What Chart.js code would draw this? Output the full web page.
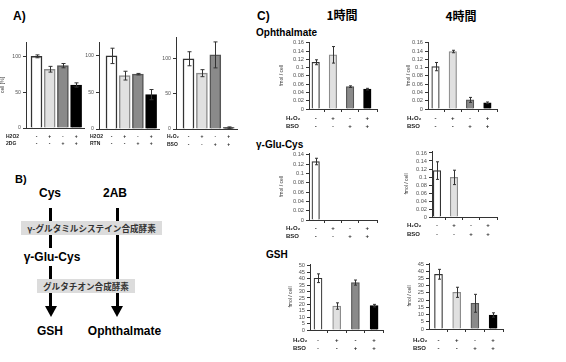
<!DOCTYPE html>
<html><head><meta charset="utf-8">
<script src="https://cdn.jsdelivr.net/npm/chart.js@4.4.1/dist/chart.umd.min.js"></script>
<style>
html,body{margin:0;padding:0;}
body{width:566px;height:362px;background:#fff;position:relative;overflow:hidden;font-family:"Liberation Sans","Noto Sans CJK JP",sans-serif;color:#000;}
canvas{position:absolute;}
.t{position:absolute;font-weight:bold;white-space:nowrap;line-height:1;}
.c{transform:translate(-50%,-50%);}
.l{transform:translateY(-50%);}
.box{position:absolute;background:#dcdcdc;color:#333;font-weight:bold;font-size:8.6px;line-height:14px;height:14px;text-align:center;white-space:nowrap;font-family:"Noto Sans CJK JP","Liberation Sans",sans-serif;}
.vl{position:absolute;background:#000;width:3px;}
.ah{position:absolute;width:0;height:0;border-left:6px solid transparent;border-right:6px solid transparent;border-top:11px solid #000;}
</style></head><body>

<!-- Panel labels -->
<div class="t l" style="left:13px;top:16px;font-size:12px">A)</div>
<div class="t l" style="left:15px;top:178.5px;font-size:11px">B)</div>
<div class="t l" style="left:257px;top:16px;font-size:12px">C)</div>
<div class="t c" style="left:342px;top:15px;font-size:12px;font-family:'Noto Sans CJK JP',sans-serif">1時間</div>
<div class="t c" style="left:461px;top:16px;font-size:12px;font-family:'Noto Sans CJK JP',sans-serif">4時間</div>
<div class="t l" style="left:256px;top:33px;font-size:10px">Ophthalmate</div>
<div class="t l" style="left:256px;top:145px;font-size:10px">γ-Glu-Cys</div>
<div class="t l" style="left:266px;top:255px;font-size:10px">GSH</div>

<!-- Panel B pathway -->
<div class="vl" style="left:49px;top:208px;height:99px"></div>
<div class="ah" style="left:45px;top:306px"></div>
<div class="vl" style="left:115.5px;top:208px;height:99px"></div>
<div class="ah" style="left:111px;top:306px"></div>
<div class="t c" style="left:50px;top:193px;font-size:12px">Cys</div>
<div class="t c" style="left:115px;top:193px;font-size:12px">2AB</div>
<div class="box" style="left:21px;top:221px;width:141px">γ-グルタミルシステイン合成酵素</div>
<div class="t c" style="left:52px;top:256.5px;font-size:12px;background:#fff;padding:3px 0">γ-Glu-Cys</div>
<div class="box" style="left:37px;top:279px;width:98px">グルタチオン合成酵素</div>
<div class="t c" style="left:50px;top:331px;font-size:12px">GSH</div>
<div class="t c" style="left:124.5px;top:331px;font-size:12px">Ophthalmate</div>

<script>
// ---------------- DATA ----------------
const signsH2O2 = ['-', '+', '-', '+'];
const signsInhibitor = ['-', '-', '+', '+'];

const percentTicks = [0, 50, 100];
const cellA1 = [100, 82, 87, 60];
const cellA1Err = [2, 4, 3, 3];
const cellA2 = [100, 73, 75, 47];
const cellA2Err = [10.5, 6, 1, 7];
const cellA3 = [100, 79.5, 105.5, 2];
const cellA3Err = [10, 5, 18.5, 1];

const ophTicks = [0, 0.02, 0.04, 0.06, 0.08, 0.1, 0.12, 0.14, 0.16];
const oph1h = [0.113, 0.131, 0.054, 0.048];
const oph1hErr = [0.006, 0.02, 0.002, 0.002];
const oph4h = [0.1025, 0.139, 0.022, 0.015];
const oph4hErr = [0.01, 0.003, 0.006, 0.002];

const glucys1hTicks = [0, 0.02, 0.04, 0.06, 0.08, 0.1, 0.12, 0.14];
const glucys1h = [0.1257, 0, 0, 0];
const glucys1hErr = [0.007, 0, 0, 0];
const glucys4hTicks = [0, 0.02, 0.04, 0.06, 0.08, 0.1, 0.12, 0.14, 0.16];
const glucys4h = [0.116, 0.099, 0, 0];
const glucys4hErr = [0.022, 0.018, 0, 0];

const gsh1hTicks = [0, 5, 10, 15, 20, 25, 30, 35, 40, 45, 50];
const gsh1h = [40.4, 18.7, 37, 19];
const gsh1hErr = [3.4, 2.5, 2, 1];
const gsh4hTicks = [0, 5, 10, 15, 20, 25, 30, 35, 40, 45];
const gsh4h = [37.9, 25.4, 17.8, 9.7];
const gsh4hErr = [3.4, 3.5, 6.2, 1.5];

// ---------------- STYLE ----------------
const FONT = '"Liberation Sans", "DejaVu Sans", sans-serif';
const FILLS = ['#ffffff', '#e0e0e0', '#8a8a8a', '#000000'];
const EDGES = ['#333333', '#8c8c8c', '#555555', '#000000'];
Chart.defaults.font.family = FONT;
Chart.defaults.color = '#444';

function makeChart(o) {
  const padTop = 6, padRight = 4;
  const left = o.x0 - o.yw, top = o.yTop - padTop;
  const w = Math.ceil(o.xRight - o.x0 + o.yw + padRight);
  const h = Math.ceil(o.y0 - o.yTop + padTop + o.xh);
  const cv = document.createElement('canvas');
  cv.width = w; cv.height = h;
  cv.style.left = left + 'px'; cv.style.top = top + 'px';
  cv.style.width = w + 'px'; cv.style.height = h + 'px';
  document.body.appendChild(cv);
  const xMin = -(o.c0 - o.x0) / o.d;
  const xMax = xMin + (o.xRight - o.x0) / o.d;
  const xTickVals = o.xMarks ? [0.5, 1.5, 2.5, xMax] : [0.5];
  const marks = {
    id: 'marks',
    afterDatasetsDraw(chart) {
      const {ctx, scales: {x, y}, chartArea} = chart;
      ctx.save();
      ctx.strokeStyle = '#333'; ctx.lineWidth = 1;
      o.values.forEach((v, i) => {
        const e = o.errors[i];
        if (!e) return;
        const px = Math.round(x.getPixelForValue(i)) + 0.5;
        const t = y.getPixelForValue(v + e), b = y.getPixelForValue(Math.max(0, v - e));
        ctx.beginPath();
        ctx.moveTo(px, t); ctx.lineTo(px, b);
        ctx.moveTo(px - o.cap, t); ctx.lineTo(px + o.cap, t);
        ctx.moveTo(px - o.cap, b); ctx.lineTo(px + o.cap, b);
        ctx.stroke();
      });
      ctx.fillStyle = '#222'; ctx.textBaseline = 'middle';
      o.rows.forEach(r => {
        ctx.font = 'bold ' + o.rowFont + 'px ' + FONT;
        ctx.textAlign = 'left';
        ctx.fillText(r.name, o.rowX - left, chartArea.bottom + r.dy);
        ctx.textAlign = 'center';
        r.signs.forEach((s, i) => ctx.fillText(s, x.getPixelForValue(i), chartArea.bottom + r.dy));
      });
      ctx.restore();
    }
  };
  new Chart(cv, {
    type: 'bar',
    data: {
      datasets: [{
        data: o.values.map((v, i) => ({x: i, y: v})),
        backgroundColor: FILLS, borderColor: EDGES, borderWidth: o.bw,
        barThickness: o.barW
      }]
    },
    options: {
      responsive: false, animation: false, devicePixelRatio: 1,
      layout: {padding: {top: padTop, right: padRight, left: 0, bottom: 0}},
      plugins: {legend: {display: false}, tooltip: {enabled: false}},
      scales: {
        x: {
          type: 'linear', min: xMin, max: xMax, offset: false,
          grid: {display: o.xMarks, offset: false, drawOnChartArea: false, drawTicks: o.xMarks, tickLength: 3, color: '#333'},
          border: {color: '#333', width: 1},
          ticks: {display: false},
          afterBuildTicks: s => { s.ticks = xTickVals.map(v => ({value: v})); },
          afterFit: s => { s.height = o.xh; }
        },
        y: {
          min: 0, max: o.yMax,
          afterBuildTicks: s => { s.ticks = o.ticks.map(v => ({value: v})); },
          ticks: {font: {size: o.tickFont}, color: '#555', padding: 2, autoSkip: false, callback: v => String(v)},
          grid: {drawOnChartArea: false, drawTicks: true, tickLength: 3, color: '#333'},
          border: {color: '#333', width: 1},
          title: {display: !!o.title, text: o.title || '', font: {size: 5}, padding: 0, color: '#333'},
          afterFit: s => { s.width = o.yw; }
        }
      }
    },
    plugins: [marks]
  });
}

// ---------------- PANEL A ----------------
const A = {tickFont: 5.2, rowFont: 5, barW: 11, cap: 2, bw: 1.5, xh: 24, xMarks: false};
makeChart(Object.assign({}, A, {values: cellA1, errors: cellA1Err, ticks: percentTicks, yMax: 120,
  x0: 26, y0: 128, yTop: 42, xRight: 84, c0: 36.5, d: 13.2, yw: 26, rowX: 6, title: 'cell [%]',
  rows: [{name: 'H2O2', signs: signsH2O2, dy: 9}, {name: '2DG', signs: signsInhibitor, dy: 16}]}));
makeChart(Object.assign({}, A, {values: cellA2, errors: cellA2Err, ticks: percentTicks, yMax: 119,
  x0: 99, y0: 129, yTop: 42, xRight: 159, c0: 111.5, d: 13.2, yw: 16, rowX: 90,
  rows: [{name: 'H2O2', signs: signsH2O2, dy: 8}, {name: 'RTN', signs: signsInhibitor, dy: 15}]}));
makeChart(Object.assign({}, A, {values: cellA3, errors: cellA3Err, ticks: percentTicks, yMax: 131,
  x0: 176, y0: 129, yTop: 37, xRight: 237, c0: 188.5, d: 13.4, yw: 18, rowX: 167,
  rows: [{name: 'H₂O₂', signs: signsH2O2, dy: 8}, {name: 'BSO', signs: signsInhibitor, dy: 16}]}));

// ---------------- PANEL C ----------------
const C = {tickFont: 5.7, rowFont: 6, barW: 7.5, cap: 1.5, bw: 1.2, xh: 24, xMarks: true, title: 'fmol / cell'};
const rowsC = (a, b) => [{name: 'H₂O₂', signs: signsH2O2, dy: a}, {name: 'BSO', signs: signsInhibitor, dy: b}];
makeChart(Object.assign({}, C, {values: oph1h, errors: oph1hErr, ticks: ophTicks, yMax: 0.162,
  x0: 309, y0: 109, yTop: 42, xRight: 377, c0: 315.7, d: 17.2, yw: 30, rowX: 286, rows: rowsC(9, 17)}));
makeChart(Object.assign({}, C, {values: oph4h, errors: oph4hErr, ticks: ophTicks, yMax: 0.162,
  x0: 428, y0: 109, yTop: 42, xRight: 497, c0: 435.5, d: 17.3, yw: 22, rowX: 407, rows: rowsC(9, 17)}));
makeChart(Object.assign({}, C, {values: glucys1h, errors: glucys1hErr, ticks: glucys1hTicks, yMax: 0.144,
  x0: 309, y0: 220, yTop: 153, xRight: 377, c0: 315.7, d: 17.2, yw: 30, rowX: 286, rows: rowsC(8.5, 16.5)}));
makeChart(Object.assign({}, C, {values: glucys4h, errors: glucys4hErr, ticks: glucys4hTicks, yMax: 0.165,
  x0: 432, y0: 217, yTop: 151, xRight: 497, c0: 437, d: 17, yw: 28, rowX: 407, rows: rowsC(8, 17)}));
makeChart(Object.assign({}, C, {values: gsh1h, errors: gsh1hErr, ticks: gsh1hTicks, yMax: 51.5, barW: 8,
  x0: 310, y0: 330, yTop: 264, xRight: 383, c0: 318, d: 18.7, yw: 22, rowX: 293, rows: rowsC(10, 18)}));
makeChart(Object.assign({}, C, {values: gsh4h, errors: gsh4hErr, ticks: gsh4hTicks, yMax: 45.7, barW: 8,
  x0: 429, y0: 329, yTop: 263, xRight: 503, c0: 438.5, d: 18.2, yw: 22, rowX: 413, rows: rowsC(11, 19)}));
</script>
</body></html>
